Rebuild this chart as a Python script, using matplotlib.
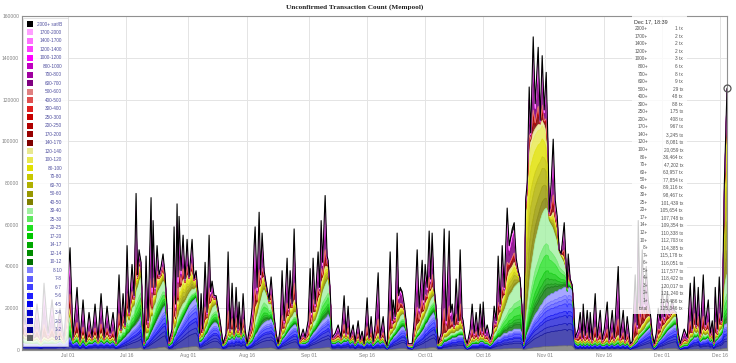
import datetime as dt
import numpy as np
import matplotlib
matplotlib.use('Agg')
import matplotlib.pyplot as plt
import matplotlib.dates as mdates
from matplotlib.colors import to_rgba
from matplotlib.patches import Rectangle
from matplotlib.ticker import MultipleLocator, FuncFormatter

plt.rcParams['font.family'] = 'Liberation Sans'

# fee bands, bottom of the stack first
band_labels = ['0-1', '1-2', '2-3', '3-4', '4-5', '5-6', '6-7', '7-8', '8-10',
               '10-12', '12-14', '14-17', '17-20', '20-25', '25-30', '30-40',
               '40-50', '50-60', '60-70', '70-80', '80-100', '100-120', '120-140',
               '140-170', '170-200', '200-250', '250-300', '300-400', '400-500', '500-600',
               '600-700', '700-800', '800-1000', '1000-1200', '1200-1400', '1400-1700',
               '1700-2000', '2000+ sat/B']
band_colors = ['#606060', '#000090', '#0000b0', '#0000d0', '#0000f0', '#2020ff', '#4040ff', '#6060ff', '#8080ff',
               '#007000', '#008c00', '#00a800', '#00c800', '#20e020', '#60e860', '#a0f0a0',
               '#808000', '#989800', '#b0b000', '#c8c800', '#e0e000', '#e8e850', '#e8e890',
               '#800000', '#980000', '#b00000', '#c80000', '#e02020', '#e05050', '#e08080',
               '#800080', '#a000a0', '#c000c0', '#ff00ff', '#ff40ff', '#ff70ff',
               '#ffa0ff', '#000000']

# days since 2017-07-01, counts in thousands of transactions
day = [-11.86, -11.08, -10.05, -9.02, -7.99, -6.96, -6.19, -5.15, -4.12, -3.09, -2.06, -1.03,
       0.52, 1.29, 2.32, 3.09, 3.87, 4.64, 5.41, 6.19, 6.96, 7.73, 8.51, 9.28, 10.05, 10.82, 11.60, 12.37,
       13.14, 13.66, 14.18, 14.69, 15.21, 15.72, 16.49, 17.01, 17.53, 17.91, 18.30, 18.81, 19.20, 19.59,
       20.10, 20.62, 21.39, 21.65, 21.91, 22.42, 22.94, 23.45, 23.97, 24.48, 25.00, 25.52, 26.03,
       26.80, 27.32, 27.71, 28.09, 28.35, 28.61, 29.12, 29.64, 30.15, 30.67, 31.19, 31.96, 32.47, 32.99, 33.51, 33.89,
       34.28, 34.66, 35.31, 35.82, 36.34, 36.73, 37.11, 37.63, 38.14, 38.66, 39.18, 39.95,
       40.72, 41.24, 41.75, 42.27, 42.78, 43.30, 43.81, 44.07, 44.59, 45.10, 45.62, 46.13,
       46.91, 47.42, 47.94, 48.20, 48.71, 49.23, 49.61, 50.00, 50.52, 51.29, 51.80, 52.32, 53.09, 53.61, 54.12,
       54.64, 55.15, 55.67, 56.44, 56.83, 57.22, 57.73, 58.25, 58.76, 59.02, 59.79, 60.57, 61.08,
       61.86, 62.37, 62.76, 63.14, 63.66, 64.43, 64.82, 65.21, 65.59, 66.24, 66.75, 67.01, 67.53, 68.04,
       68.81, 69.59, 70.36, 71.13, 71.65, 72.16, 72.68, 73.45, 73.97, 74.74, 75.26, 75.77, 76.29, 77.06, 77.58,
       78.09, 78.61, 79.12, 79.90, 80.41, 81.19, 81.70, 82.22,
       82.99, 83.51, 83.76, 84.28, 84.79, 85.18, 85.57, 86.08, 86.60, 87.11, 87.63,
       88.66, 89.18, 89.95, 90.46, 91.24, 91.62, 92.01, 92.53, 93.04, 93.43, 93.81, 94.33, 94.85, 95.36,
       96.13, 96.91, 97.42, 98.20, 98.58, 98.97, 99.48, 100.00, 100.52, 101.03, 101.55, 101.80, 102.32, 102.84,
       103.61, 104.12, 104.64, 105.15, 105.67, 106.19, 106.70, 106.96, 107.47, 107.99, 108.76,
       109.28, 109.79, 110.31, 110.82, 111.34, 111.86, 112.37, 113.14, 113.66, 114.43, 114.95, 115.46, 115.98, 116.49,
       117.01, 117.40,
       117.91, 118.30, 118.81, 119.20, 119.85, 120.36, 121.13, 121.65, 122.16, 122.68, 123.20, 123.71, 123.97, 124.48,
       125.00, 125.52, 126.03, 126.55, 127.06, 127.84, 128.35, 128.61, 128.87, 129.38, 129.90, 130.28, 130.67,
       131.44, 131.96, 132.47, 132.73, 133.25, 133.76, 134.28, 134.54, 135.05, 135.82, 136.34, 137.11, 137.63, 138.14,
       138.92, 139.43, 140.21, 140.72, 141.75, 142.27, 143.04, 143.56, 144.07, 144.85,
       145.36, 146.13, 146.65, 146.91, 147.42, 147.94, 148.45, 148.97, 149.48, 150.00, 150.52, 151.03,
       151.55, 152.06, 152.58, 153.09, 153.61, 154.38, 154.90, 155.67, 156.19, 156.70, 157.22, 157.73,
       158.76, 159.54, 160.31, 160.82, 161.34, 161.86, 162.37, 162.89, 163.66, 164.18, 164.95, 165.46, 165.98, 166.37,
       166.75, 167.27, 167.78, 168.30, 168.56, 169.07, 169.59, 169.777]

total = [44, 12, 28, 6, 22, 5, 32, 8, 24, 6, 20, 5,
         49, 6, 30, 5, 24, 4, 18, 6, 22, 5, 27, 6, 21, 8, 18, 4,
         36, 10, 27, 12, 50, 18, 41, 26, 75, 36, 48, 42, 20, 4,
         45, 14, 73, 30, 62, 30, 50, 36, 40, 46, 36, 20, 4,
         10, 59, 22, 70, 35, 64, 38, 55, 34, 53, 35, 53, 34, 38, 27, 8,
         27, 10, 42, 18, 55, 28, 33, 26, 26, 20, 14, 3,
         8, 47, 10, 32, 8, 30, 10, 23, 8, 27, 10, 3,
         12, 20, 50, 59, 30, 66, 36, 56, 38, 29, 24, 35, 16, 8, 3,
         10, 38, 14, 44, 20, 38, 22, 58, 24, 18, 5, 10, 6,
         14, 39, 18, 44, 22, 47, 30, 62, 42, 74, 45, 43, 29, 6,
         8, 12, 6, 26, 8, 21, 6, 12, 4, 14, 5, 9, 3, 25, 6,
         16, 4, 12, 37, 6, 16, 5, 2,
         47, 14, 24, 16, 56, 26, 30, 28, 22, 14, 3,
         3, 14, 48, 20, 43, 24, 41, 30, 57, 34, 56, 30, 20, 3,
         8, 58, 14, 57, 18, 22, 12, 34, 14, 48, 16, 14, 6, 3,
         10, 22, 8, 18, 7, 22, 9, 23, 8, 12, 5,
         8, 21, 14, 45, 22, 50, 30, 68, 50, 58, 61, 44, 38, 34,
         19, 4,
         72, 80, 126, 104, 150, 118, 145, 110, 141, 115, 133, 94, 66, 80,
         101, 72, 64, 48, 46, 61, 40, 30, 46, 34, 31, 21, 6,
         10, 18, 6, 22, 7, 19, 6, 18, 5, 27, 6, 19, 5, 10,
         23, 5, 19, 6, 40, 6, 19, 5, 16, 3,
         4, 36, 12, 62, 20, 48, 22, 40, 24, 18, 8, 3,
         8, 20, 14, 30, 16, 28, 18, 24, 19, 18, 8, 3,
         10, 6, 32, 10, 35, 12, 30, 8, 36, 12, 24, 8, 14, 4,
         30, 10, 35, 14, 16, 78, 112, 125.346]

# cumulative count below 140 sat/B
under140 = [8, 6, 6, 5, 6, 4, 6, 5, 6, 5, 6, 4,
            20, 5, 8, 4, 7, 4, 6, 5, 7, 4, 8, 5, 7, 5, 6, 3,
            12, 9, 13, 11, 20, 16, 24, 24, 36, 34, 40, 40, 18, 3,
            12, 10, 22, 18, 26, 26, 34, 34, 35, 38, 34, 18, 3,
            6, 16, 14, 24, 22, 30, 30, 34, 32, 36, 34, 38, 33, 34, 26, 6,
            8, 8, 14, 15, 22, 22, 25, 24, 24, 19, 12, 3,
            5, 10, 8, 10, 7, 11, 8, 10, 7, 11, 8, 3,
            6, 8, 14, 20, 22, 30, 30, 34, 35, 28, 23, 24, 15, 7, 3,
            5, 10, 10, 16, 16, 20, 20, 24, 22, 17, 4, 5, 5,
            6, 12, 12, 18, 18, 24, 26, 32, 34, 40, 40, 40, 28, 5,
            5, 6, 5, 8, 6, 8, 5, 6, 3, 6, 4, 5, 3, 7, 5,
            7, 3, 5, 8, 5, 6, 4, 2,
            10, 10, 12, 13, 18, 18, 20, 20, 19, 12, 2,
            2, 6, 12, 13, 18, 18, 22, 24, 28, 28, 30, 28, 19, 3,
            4, 8, 8, 10, 10, 11, 10, 12, 12, 14, 12, 11, 5, 2,
            4, 6, 5, 6, 5, 7, 6, 7, 5, 5, 3,
            5, 10, 11, 16, 18, 24, 26, 34, 38, 40, 42, 40, 37, 34,
            18, 3,
            66, 76, 96, 100, 104, 106, 108, 108, 110, 108, 104, 92, 64, 64,
            66, 62, 58, 48, 46, 44, 40, 30, 36, 33, 31, 20, 5,
            4, 5, 4, 5, 4, 5, 4, 5, 3, 6, 4, 5, 3, 4,
            6, 3, 5, 4, 7, 4, 5, 3, 5, 2,
            3, 6, 7, 10, 10, 12, 13, 15, 16, 16, 7, 2,
            4, 7, 8, 11, 12, 14, 15, 17, 18, 17, 7, 2,
            4, 4, 8, 8, 12, 10, 12, 6, 10, 9, 10, 6, 8, 3,
            8, 7, 12, 12, 14, 70, 108, 122.101]

# cumulative count below 40 sat/B
under40 = [6, 5, 5, 4, 5, 3, 5, 4, 5, 4, 5, 3,
           18, 4, 7, 3, 6, 3, 5, 4, 6, 3, 6, 4, 6, 4, 5, 3,
           10, 8, 11, 10, 17, 14, 20, 21, 28, 30, 33, 35, 12, 3,
           8, 8, 16, 16, 20, 22, 27, 29, 31, 33, 32, 16, 3,
           5, 10, 11, 15, 16, 18, 20, 22, 23, 25, 27, 29, 29, 30, 24, 5,
           6, 6, 10, 12, 16, 18, 20, 21, 22, 18, 11, 2,
           4, 7, 6, 8, 6, 9, 7, 8, 6, 9, 7, 2,
           5, 6, 10, 14, 17, 21, 24, 27, 29, 26, 22, 22, 14, 6, 2,
           4, 7, 8, 12, 13, 15, 16, 18, 18, 15, 3, 4, 4,
           5, 9, 10, 13, 14, 18, 21, 25, 28, 31, 33, 34, 27, 4,
           4, 5, 4, 6, 5, 6, 4, 5, 3, 5, 3, 4, 2, 5, 4,
           5, 3, 4, 6, 4, 5, 3, 2,
           7, 8, 9, 10, 13, 14, 16, 17, 17, 11, 2,
           2, 5, 9, 10, 14, 15, 17, 19, 22, 24, 25, 26, 18, 2,
           3, 6, 6, 7, 8, 8, 8, 9, 9, 10, 10, 9, 4, 2,
           3, 4, 4, 5, 4, 5, 5, 5, 4, 4, 3,
           4, 8, 9, 12, 14, 17, 19, 23, 26, 28, 30, 31, 32, 33,
           16, 3,
           14, 20, 30, 38, 46, 52, 58, 62, 65, 67, 68, 66, 62, 60,
           58, 55, 52, 47, 45, 42, 39, 29, 35, 32, 30, 18, 4,
           3, 4, 3, 4, 3, 4, 3, 4, 3, 4, 3, 4, 3, 3,
           4, 3, 4, 3, 5, 3, 4, 3, 4, 2,
           2, 4, 5, 7, 8, 9, 10, 12, 13, 14, 6, 2,
           3, 5, 6, 8, 10, 12, 13, 15, 16, 16, 6, 2,
           3, 3, 6, 6, 9, 8, 9, 5, 8, 7, 8, 5, 6, 3,
           6, 6, 9, 10, 11, 30, 35, 36.230]

# cumulative count below 10 sat/B
under10 = [4, 3, 3, 3, 3, 2, 3, 3, 3, 3, 4, 3,
           6, 3, 4, 2, 4, 2, 3, 3, 4, 3, 4, 3, 4, 3, 4, 2,
           3, 4, 5, 6, 7, 8, 10, 11, 12, 13, 14, 16, 8, 2,
           4, 5, 8, 9, 10, 12, 14, 16, 18, 20, 21, 12, 2,
           3, 6, 7, 9, 10, 11, 13, 15, 17, 19, 21, 23, 24, 25, 20, 4,
           4, 5, 7, 8, 10, 11, 12, 13, 13, 12, 9, 2,
           3, 5, 5, 6, 5, 7, 6, 7, 5, 7, 6, 2,
           3, 4, 6, 7, 8, 10, 11, 12, 13, 14, 14, 15, 12, 6, 2,
           3, 5, 6, 8, 9, 10, 11, 12, 12, 11, 3, 3, 3,
           4, 6, 7, 8, 9, 11, 12, 13, 14, 15, 16, 17, 15, 3,
           3, 4, 3, 4, 4, 5, 3, 4, 2, 4, 3, 3, 2, 4, 3,
           4, 2, 3, 4, 3, 4, 3, 1,
           4, 5, 6, 7, 8, 9, 10, 11, 11, 9, 2,
           1, 4, 6, 7, 9, 10, 12, 13, 15, 16, 17, 18, 14, 2,
           2, 4, 4, 5, 5, 6, 6, 6, 7, 7, 7, 7, 3, 1,
           2, 3, 3, 3, 3, 4, 4, 4, 3, 3, 2,
           3, 4, 5, 6, 6, 7, 8, 8, 9, 9, 10, 10, 10, 10,
           8, 2,
           6, 8, 10, 12, 15, 17, 19, 21, 22, 24, 25, 26, 26, 27,
           27, 28, 28, 29, 29, 30, 30, 28, 30, 30, 29, 16, 3,
           2, 3, 2, 3, 2, 3, 2, 3, 2, 3, 2, 3, 2, 2,
           3, 2, 3, 2, 3, 2, 3, 2, 3, 1,
           2, 3, 4, 5, 6, 7, 8, 9, 10, 11, 5, 1,
           2, 4, 5, 6, 7, 9, 10, 11, 12, 12, 5, 1,
           2, 2, 4, 5, 6, 6, 7, 4, 5, 5, 6, 4, 5, 2,
           4, 5, 6, 7, 8, 12, 12.5, 12.643]

# split of each fee group into its bands (tx counts from the tooltip, upper group by eye)
blue_share = [860, 3246, 1223, 1595, 845, 1526, 873, 793, 1682]
green_share = [2365, 984, 1606, 2094, 4215, 2972, 9351]
yellow_share = [11262, 13897, 16755, 10738, 16405, 11978, 4836]
upper_share = [10, 5, 3, 2, 2, 1, 1, 35, 15, 4, 1, 1, 1, 1, 18]

tip_time = 'Dec 17, 18:39'
tip_labels = ['2000+', '1700+', '1400+', '1200+', '1000+', '800+', '700+', '600+', '500+', '400+',
              '300+', '250+', '200+', '170+', '140+', '120+', '100+', '80+', '70+', '60+',
              '50+', '40+', '30+', '25+', '20+', '17+', '14+', '12+', '10+', '8+',
              '7+', '6+', '5+', '4+', '3+', '2+', '1+', 'total']
tip_counts = [1, 2, 2, 2, 3, 6, 8, 9, 29, 48,
              88, 175, 408, 967, 3245, 8081, 20059, 36464, 47202, 63957,
              77854, 89116, 98467, 101439, 105654, 107748, 109354, 110338, 112703, 114385,
              115178, 116051, 117577, 118422, 120017, 121240, 124486, 125346]

W, H = 736, 363


def fx(px):
    return px / W


def fy(py):
    return 1 - py / H


def split(group, shares):
    shares = np.array(shares, dtype=float)
    return [group * s / shares.sum() for s in shares]


t = np.array(total) * 1000
y140 = np.array(under140) * 1000
y40 = np.array(under40) * 1000
y10 = np.array(under10) * 1000

bands = (split(y10, blue_share) + split(np.maximum(y40 - y10, 0), green_share)
         + split(np.maximum(y140 - y40, 0), yellow_share)
         + split(np.maximum(t - y140, 0), upper_share))

# fill opacity per fee group
alphas = [0.7] * 9 + [0.78] * 7 + [0.82] * 7 + [0.85] * 15
fills = [to_rgba(c, a) for c, a in zip(band_colors, alphas)]

t0 = mdates.date2num(dt.datetime(2017, 7, 1))
x = t0 + np.array(day)

fig = plt.figure(figsize=(W / 100, H / 100), dpi=100)
ax = fig.add_axes([fx(22), 13 / H, 705 / W, 334 / H])

ax.stackplot(x, bands, colors=fills, lw=0)
cum = np.cumsum(bands, axis=0)
for k in range(len(bands) - 1):
    ax.plot(x, cum[k], color=band_colors[k], lw=0.45)
ax.plot(x, cum[-1], color='black', lw=0.8)
ax.plot(x[-1], t[-1], 'o', ms=5, mfc='none', mec='#555555', mew=0.9, clip_on=False, zorder=10)

ax.set_xlim(x[0], x[-1])
ax.set_ylim(0, 160000)
ax.yaxis.set_major_locator(MultipleLocator(20000))
ax.yaxis.set_major_formatter(FuncFormatter(lambda v, p: '%d' % v))
ax.xaxis.set_major_locator(mdates.DayLocator(bymonthday=[1, 16]))
ax.xaxis.set_major_formatter(mdates.DateFormatter('%b %d'))
ax.tick_params(length=0, labelsize=3.6, colors='#808080', pad=2)
ax.grid(True, color='#e4e4e4', lw=0.7)
ax.set_axisbelow(True)
for s in ax.spines.values():
    s.set_color('#909090')
    s.set_linewidth(0.8)

fig.text(fx(355), fy(7), 'Unconfirmed Transaction Count (Mempool)', ha='center', va='center',
         family='Liberation Serif', weight='bold', fontsize=5.2, color='#222222')

# legend box on the left
fig.add_artist(Rectangle((fx(23), fy(346)), fx(68) - fx(23), fy(18) - fy(346), transform=fig.transFigure,
                         fc='white', alpha=0.85, ec='#d0d0d0', lw=0.5, zorder=5))
for i, k in enumerate(range(len(band_labels) - 1, -1, -1)):
    yc = 24 + i * 8.49
    fig.add_artist(Rectangle((fx(27), fy(yc + 3)), fx(6), fy(0) - fy(6), transform=fig.transFigure,
                             fc=band_colors[k], ec='none', zorder=6))
    fig.text(fx(62), fy(yc), band_labels[k], ha='right', va='center', fontsize=3.4,
             color='#5050a0', zorder=6)

# tooltip box on the right
fig.add_artist(Rectangle((fx(632), fy(314)), fx(55), fy(15) - fy(314), transform=fig.transFigure,
                         fc='white', alpha=0.8, ec='none', zorder=5))
fig.text(fx(634), fy(21.5), tip_time, ha='left', va='center', fontsize=3.9, color='#333333', zorder=6)
for i, (lab, n) in enumerate(zip(tip_labels, tip_counts)):
    yc = 28.7 + i * 7.55
    fig.text(fx(648), fy(yc), lab, ha='right', va='center', fontsize=3.4, color='#555555', zorder=6)
    fig.text(fx(683), fy(yc), '{:,} tx'.format(n), ha='right', va='center', fontsize=3.4,
             color='#555555', zorder=6)

fig.savefig('out.png', dpi=100)
